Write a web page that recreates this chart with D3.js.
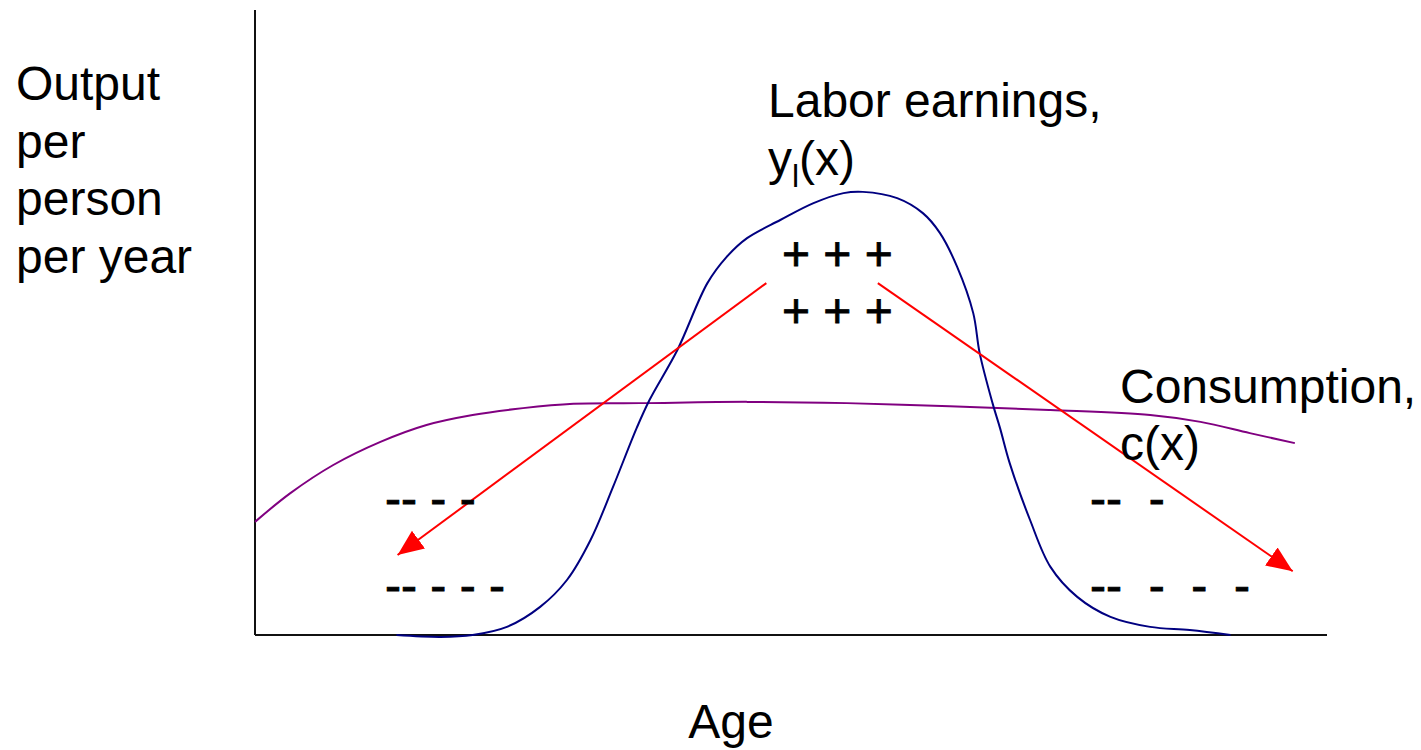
<!DOCTYPE html>
<html>
<head>
<meta charset="utf-8">
<script src="https://cdn.jsdelivr.net/npm/d3@7"></script>
<style>
body{margin:0;background:#fff;}
svg text{font-family:"Liberation Sans",Arial,sans-serif;fill:#000;}
</style>
</head>
<body>
<svg id="chart" width="1421" height="750"></svg>
<script>
//data (age, output per person)-----------------------------------------
var laborAge=[13.2,17.3,20.3,23.5,26.6,29.1,31.3,33.4,35.6,36.8,39.4,42.2,44.0,45.9,49.0,52.1,54.9,56.7,59.9,62.3,63.9,65.5,67.0,67.6,68.8,69.5,70.4,72.3,74.2,76.7,79.8,83.5,87.2,91.0];
var laborVal=[0,-0.3,0,1.3,4.5,8.8,15.2,23.7,33.1,37.6,45.6,56.3,60.5,63.5,66.4,69.1,70.7,70.9,69.9,67.5,64.3,58.9,51.5,45.1,37.1,33.1,27.5,18.4,10.9,6.1,2.9,1.3,0.8,0];

var consAge=[0,3.3,7.3,11.7,16.0,20.3,25.0,29.7,35.9,45.9,55.2,64.8,74.2,83.5,88.2,92.8,97.0];
var consVal=[18.1,22.7,27.2,30.9,33.6,35.2,36.3,37.0,37.1,37.3,37.1,36.6,36.0,35.2,34.1,32.3,30.7];

//transfer arrows: from the working ages to the young and the old
var arrowFrom=[[47.7,56.3],[58.1,56.3]];
var arrowTo=[[13.3,12.8],[96.8,10.2]];

var yLabel=["Output","per","person","per year"];
var plusRows=["+ + +","+ + +"];
var minusLeft=["-- - -","-- - - -"];
var minusRight=["--  -","--  -  -  -"];

var svg=d3.select("#chart");

var x=d3.scaleLinear().domain([0,100]).range([255,1327]);
var y=d3.scaleLinear().domain([0,100]).range([635,10]);

//axes, plain lines without ticks
svg.append("line")
	.attr("x1",x(0)).attr("x2",x(0))
	.attr("y1",y(100)).attr("y2",y(0))
	.style("stroke","#111").style("stroke-width",2);
svg.append("line")
	.attr("x1",x(0)).attr("x2",x(100))
	.attr("y1",y(0)).attr("y2",y(0))
	.style("stroke","#111").style("stroke-width",2);

var line=d3.line()
	.x(function(d){return x(d[0]);})
	.y(function(d){return y(d[1]);})
	.curve(d3.curveCatmullRom.alpha(0.5));

//consumption curve
svg.append("path")
	.attr("d",line(d3.zip(consAge,consVal)))
	.style("fill","none")
	.style("stroke","#800080")
	.style("stroke-width",2);

//labor earnings curve
svg.append("path")
	.attr("d",line(d3.zip(laborAge,laborVal)))
	.style("fill","none")
	.style("stroke","#000080")
	.style("stroke-width",2);

//red arrows
svg.append("defs").append("marker")
	.attr("id","head")
	.attr("markerUnits","userSpaceOnUse")
	.attr("markerWidth",28).attr("markerHeight",24)
	.attr("refX",26).attr("refY",12)
	.attr("orient","auto")
	.append("path")
	.attr("d","M0,1 L26,12 L0,23 Z")
	.style("fill","#ff0000");

svg.selectAll("line.arrow")
	.data(d3.zip(arrowFrom,arrowTo))
	.enter()
	.append("line")
	.attr("class","arrow")
	.attr("x1",function(d){return x(d[0][0]);})
	.attr("y1",function(d){return y(d[0][1]);})
	.attr("x2",function(d){return x(d[1][0]);})
	.attr("y2",function(d){return y(d[1][1]);})
	.style("stroke","#ff0000")
	.style("stroke-width",2)
	.attr("marker-end","url(#head)");

//texts--------------------------------------------------------------
var fs=48;

svg.selectAll("text.ylab")
	.data(yLabel)
	.enter()
	.append("text")
	.attr("class","ylab")
	.attr("x",16)
	.attr("y",function(d,i){return 100+i*57.7;})
	.style("font-size",fs+"px")
	.text(function(d){return d;});

svg.append("text")
	.attr("x",731).attr("y",738)
	.attr("text-anchor","middle")
	.style("font-size",fs+"px")
	.text("Age");

svg.append("text")
	.attr("x",768).attr("y",117)
	.style("font-size",fs+"px")
	.text("Labor earnings,");

var yl=svg.append("text")
	.attr("x",768).attr("y",175)
	.style("font-size",fs+"px");
yl.append("tspan").text("y");
yl.append("tspan").attr("dy",12).style("font-size","32px").text("l");
yl.append("tspan").attr("dy",-12).text("(x)");

svg.append("text")
	.attr("x",1120).attr("y",403)
	.style("font-size",fs+"px")
	.text("Consumption,");
svg.append("text")
	.attr("x",1120).attr("y",460)
	.style("font-size",fs+"px")
	.text("c(x)");

//the + and - signs look a bit heavier than the labels
svg.selectAll("text.plus")
	.data(plusRows)
	.enter()
	.append("text")
	.attr("class","plus")
	.attr("x",782)
	.attr("y",function(d,i){return 270+i*57;})
	.style("font-size",fs+"px")
	.style("stroke","#000").style("stroke-width",0.8)
	.text(function(d){return d;});

svg.selectAll("text.minl")
	.data(minusLeft)
	.enter()
	.append("text")
	.attr("class","minl")
	.attr("x",385)
	.attr("y",function(d,i){return 515+i*87;})
	.style("font-size",fs+"px")
	.style("white-space","pre")
	.style("stroke","#000").style("stroke-width",0.8)
	.text(function(d){return d;});

svg.selectAll("text.minr")
	.data(minusRight)
	.enter()
	.append("text")
	.attr("class","minr")
	.attr("x",1090)
	.attr("y",function(d,i){return 515+i*87;})
	.style("font-size",fs+"px")
	.style("white-space","pre")
	.style("stroke","#000").style("stroke-width",0.8)
	.text(function(d){return d;});
</script>
</body>
</html>
